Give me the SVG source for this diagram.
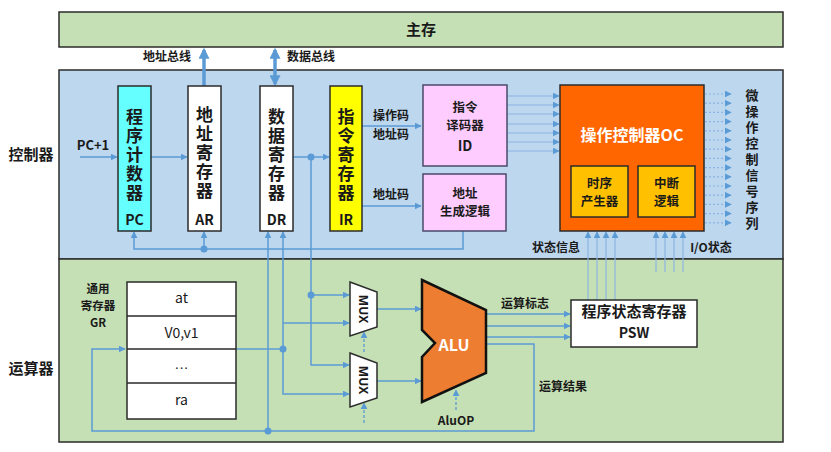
<svg xmlns="http://www.w3.org/2000/svg" width="831" height="452" viewBox="0 0 831 452">
<style>
text{font-family:"Noto Sans CJK SC","Noto Sans",sans-serif;fill:#1a1a1a;text-anchor:middle}
.b{font-weight:bold}
.v{writing-mode:vertical-rl;text-anchor:start;font-weight:bold}
.mux{font-family:"Open Sans","Noto Sans",sans-serif;font-weight:bold;font-size:12px}
.box{stroke:#2b2b2b;stroke-width:1.5}
.ln{fill:none;stroke:#5b9bd5;stroke-width:1.5}
.thin{fill:none;stroke:#8db4e2;stroke-width:1.2}
.dot{fill:none;stroke:#8db4e2;stroke-width:1.2;stroke-dasharray:2 2}
.dash{fill:none;stroke:#5b9bd5;stroke-width:1.3;stroke-dasharray:3 2}
.bus{fill:none;stroke:#5b9bd5;stroke-width:3.5}
.jn{fill:#5b9bd5}
</style>
<defs>
<marker id="a" viewBox="0 0 10 10" refX="9" refY="5" markerWidth="7" markerHeight="7" markerUnits="userSpaceOnUse" orient="auto-start-reverse"><path d="M0,0 L10,5 L0,10z" fill="#5b9bd5"/></marker>
<marker id="ab" viewBox="0 0 10 10" refX="8" refY="5" markerWidth="11" markerHeight="11" markerUnits="userSpaceOnUse" orient="auto-start-reverse"><path d="M0,0 L10,5 L0,10z" fill="#5b9bd5"/></marker>
</defs>

<g id="main-memory">
<rect x="59" y="12" width="724" height="35" fill="#c5e0b4" class="box"/>
<text x="421" y="35" class="b" font-size="15">主存</text>
</g>
<g id="controller">
<rect x="59" y="70" width="724" height="189" fill="#bdd7ee" class="box"/>
<text x="31" y="160" class="b" font-size="15">控制器</text>
</g>
<g id="alu-section">
<rect x="59" y="259" width="724" height="183" fill="#c5e0b4" class="box"/>
<text x="31" y="374" class="b" font-size="15">运算器</text>
</g>

<g id="connectors">
<path class="bus" d="M204,86 V50" marker-end="url(#ab)"/>
<path class="bus" d="M275,50 V84" marker-start="url(#ab)" marker-end="url(#ab)"/>
<path class="ln" d="M80,157 H117" marker-end="url(#a)"/>
<path class="ln" d="M151,157 H187" marker-end="url(#a)"/>
<path class="ln" d="M293,157 H329" marker-end="url(#a)"/>
<path class="ln" d="M362,126 H421" marker-end="url(#a)"/>
<path class="ln" d="M362,206 H421" marker-end="url(#a)"/>
<path class="ln" d="M463,231 V249 H134 V232" marker-end="url(#a)"/>
<path class="ln" d="M204,249 V232" marker-end="url(#a)"/>
<g class="thin">
<path d="M507,96 H559" marker-end="url(#a)"/>
<path d="M507,105 H559" marker-end="url(#a)"/>
<path d="M507,114 H559" marker-end="url(#a)"/>
<path d="M507,124 H559" marker-end="url(#a)"/>
<path d="M507,133 H559" marker-end="url(#a)"/>
<path d="M507,142 H559" marker-end="url(#a)"/>
<path d="M507,151 H559" marker-end="url(#a)"/>
</g>
<g class="dot">
<path d="M705,94 H731" marker-end="url(#a)"/>
<path d="M705,103.2 H731" marker-end="url(#a)"/>
<path d="M705,112.4 H731" marker-end="url(#a)"/>
<path d="M705,121.6 H731" marker-end="url(#a)"/>
<path d="M705,130.8 H731" marker-end="url(#a)"/>
<path d="M705,140 H731" marker-end="url(#a)"/>
<path d="M705,149.2 H731" marker-end="url(#a)"/>
<path d="M705,158.4 H731" marker-end="url(#a)"/>
<path d="M705,167.6 H731" marker-end="url(#a)"/>
<path d="M705,176.8 H731" marker-end="url(#a)"/>
<path d="M705,186 H731" marker-end="url(#a)"/>
<path d="M705,195.2 H731" marker-end="url(#a)"/>
<path d="M705,204.4 H731" marker-end="url(#a)"/>
<path d="M705,213.6 H731" marker-end="url(#a)"/>
<path d="M705,222.8 H731" marker-end="url(#a)"/>
</g>
<path class="ln" d="M268,431 V232" marker-end="url(#a)"/>
<path class="ln" d="M283,232 V394 H349" marker-start="url(#a)" marker-end="url(#a)"/>
<path class="ln" d="M283,323 H349" marker-end="url(#a)"/>
<path class="ln" d="M236,349 H283"/>
<path class="ln" d="M311,157 V365 H349" marker-end="url(#a)"/>
<path class="ln" d="M311,295 H349" marker-end="url(#a)"/>
<path class="ln" d="M377,309 H421" marker-end="url(#a)"/>
<path class="ln" d="M377,381 H421" marker-end="url(#a)"/>
<path class="dash" d="M364,352 V332" marker-end="url(#a)"/>
<path class="dash" d="M364,423 V403" marker-end="url(#a)"/>
<path class="ln" d="M486,314 H570" marker-end="url(#a)"/>
<path class="ln" d="M486,326 H570" marker-end="url(#a)"/>
<path class="ln" d="M486,337 H570" marker-end="url(#a)"/>
<path class="ln" d="M486,344 H534 V431 H92 V349 H125" marker-end="url(#a)"/>
<path class="dash" d="M456,410 V390" marker-end="url(#a)"/>
<g class="thin">
<path d="M588,300 V232" marker-end="url(#a)"/>
<path d="M597,300 V232" marker-end="url(#a)"/>
<path d="M606,300 V232" marker-end="url(#a)"/>
<path d="M615,300 V232" marker-end="url(#a)"/>
<path d="M656,272 V232" marker-end="url(#a)"/>
<path d="M665,272 V232" marker-end="url(#a)"/>
<path d="M674,272 V232" marker-end="url(#a)"/>
<path d="M683,272 V232" marker-end="url(#a)"/>
</g>
<circle class="jn" cx="311" cy="157" r="3.5"/>
<circle class="jn" cx="204" cy="249" r="3.5"/>
<circle class="jn" cx="311" cy="295" r="3.5"/>
<circle class="jn" cx="283" cy="349" r="3.5"/>
<circle class="jn" cx="268" cy="431" r="3.5"/>
</g>

<g id="labels">
<text x="167" y="61" font-size="12" class="b">地址总线</text>
<text x="311" y="61" font-size="12" class="b">数据总线</text>
<text x="93" y="150" font-size="13" class="b">PC+1</text>
<text x="391" y="120" font-size="12" class="b">操作码<tspan x="391" dy="19">地址码</tspan></text>
<text x="391" y="199" font-size="12" class="b">地址码</text>
<text x="556" y="252" font-size="12" class="b">状态信息</text>
<text x="711" y="252" font-size="12" class="b">I/O状态</text>
<text x="525" y="308" font-size="12" class="b">运算标志</text>
<text x="563" y="391" font-size="12" class="b">运算结果</text>
<text x="456" y="425" font-size="12" class="b">AluOP</text>
</g>

<g id="PC">
<rect x="118" y="86" width="33" height="145" fill="#66ffff" class="box"/>
<text x="134.5" y="108.5" class="v" font-size="17" letter-spacing="2">程序计数器</text>
<text x="134.5" y="225" class="b" font-size="14">PC</text>
</g>
<g id="AR">
<rect x="188" y="86" width="33" height="145" fill="#ffffff" class="box"/>
<text x="204.5" y="106.5" class="v" font-size="17" letter-spacing="2">地址寄存器</text>
<text x="204.5" y="225" class="b" font-size="14">AR</text>
</g>
<g id="DR">
<rect x="260" y="86" width="33" height="145" fill="#ffffff" class="box"/>
<text x="276.5" y="108.5" class="v" font-size="17" letter-spacing="2">数据寄存器</text>
<text x="276.5" y="225" class="b" font-size="14">DR</text>
</g>
<g id="IR">
<rect x="330" y="86" width="32" height="145" fill="#ffff00" class="box"/>
<text x="346" y="108.5" class="v" font-size="17" letter-spacing="2">指令寄存器</text>
<text x="346" y="225" class="b" font-size="14">IR</text>
</g>
<g id="ID">
<rect x="423" y="85" width="84" height="81" fill="#ffccff" stroke="#4a4a6a" stroke-width="1.5"/>
<text x="465" y="112" class="b" font-size="12.5">指令<tspan x="465" dy="18.2">译码器</tspan><tspan x="465" dy="21" font-size="14">ID</tspan></text>
</g>
<g id="addr-gen">
<rect x="423" y="174" width="83" height="57" fill="#ffccff" stroke="#4a4a6a" stroke-width="1.5"/>
<text x="465" y="198" class="b" font-size="12.5">地址<tspan x="465" dy="18.2">生成逻辑</tspan></text>
</g>
<g id="OC">
<rect x="560" y="85" width="144" height="146" fill="#ff6600" class="box"/>
<text x="632" y="141" class="b" font-size="16" style="fill:#ffffff">操作控制器OC</text>
<rect x="571" y="166" width="57" height="51" fill="#ffc000" class="box"/>
<text x="599.5" y="188" class="b" font-size="12.5">时序<tspan x="599.5" dy="18.2">产生器</tspan></text>
<rect x="638" y="166" width="57" height="51" fill="#ffc000" class="box"/>
<text x="666.5" y="188" class="b" font-size="12.5">中断<tspan x="666.5" dy="18.2">逻辑</tspan></text>
</g>
<g id="signals">
<text x="752" y="88.5" class="v" font-size="13" letter-spacing="3">微操作控制信号序列</text>
</g>
<g id="GR">
<text x="98" y="293" class="b" font-size="11.5">通用<tspan x="98" dy="16.8">寄存器</tspan><tspan x="98" dy="16.8">GR</tspan></text>
<rect x="127" y="282" width="109" height="137" fill="#ffffff" class="box"/>
<path d="M127,316 H236 M127,349 H236 M127,383 H236" stroke="#2b2b2b" stroke-width="1.5"/>
<g font-size="14" style="fill:#333">
<text x="181.5" y="303">at</text>
<text x="181.5" y="338">V0,v1</text>
<text x="181.5" y="372" style="font-family:'Liberation Sans',sans-serif">···</text>
<text x="181.5" y="405">ra</text>
</g>
</g>
<g id="MUX1">
<path d="M350,282 L377,292 L377,327 L350,336 Z" fill="#ffffff" class="box"/>
<text transform="translate(359,309) rotate(90)" class="mux">MUX</text>
</g>
<g id="MUX2">
<path d="M350,353 L377,363 L377,398 L350,407 Z" fill="#ffffff" class="box"/>
<text transform="translate(359,380) rotate(90)" class="mux">MUX</text>
</g>
<g id="ALU">
<path d="M422,280 L486,310 L486,373 L422,402 L422,357 L435,343 L422,330 Z" fill="#ed7d31" stroke="#111" stroke-width="2.5"/>
<text x="454" y="351" class="b" font-size="16" style="fill:#ffffff">ALU</text>
</g>
<g id="PSW">
<rect x="571" y="300" width="126" height="47" fill="#ffffff" class="box"/>
<text x="634" y="317" class="b" font-size="15">程序状态寄存器<tspan x="634" dy="21" font-size="14">PSW</tspan></text>
</g>
</svg>
